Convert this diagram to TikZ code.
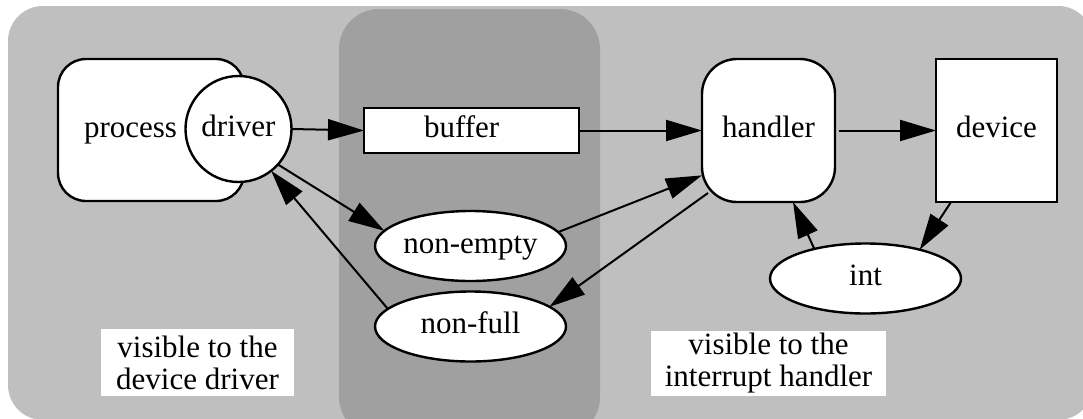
\documentclass[tikz,border=0pt]{standalone}
\usepackage{fontspec}
\setmainfont{Liberation Serif}
\usetikzlibrary{arrows.meta,shapes.geometric,calc}
\definecolor{bgl}{HTML}{BFBFBF}
\definecolor{bgd}{HTML}{A0A0A0}
\begin{document}
\begin{tikzpicture}[x=1pt,y=-1pt,
  every node/.style={font=\fontsize{31}{32}\selectfont, inner sep=0pt, outer sep=0pt},
  shapebox/.style={draw=black, line width=2.4pt, fill=white, text height=21pt, text depth=7pt},
  roundbox/.style={shapebox, rectangle, rounded corners=#1},
  ell/.style={shapebox, ellipse, minimum width=191pt, minimum height=70pt},
  conn/.style={line width=2pt, -{Triangle[length=36pt,width=21pt]}},
  tagbox/.style={fill=white, align=center, minimum width=#1}]
\useasboundingbox (0,0) rectangle (1083,418);
\begin{scope}
  \clip (0,0) rectangle (1083,418);
  \fill[bgl, rounded corners=35pt] (8,6) rectangle (1093,420);
  \fill[bgd, rounded corners=40pt] (339,9) rectangle (600,437);
\end{scope}

\node[roundbox=28pt, minimum width=186pt, minimum height=142pt, text width=134pt, inner xsep=26pt, align=left] (process) at (151,130) {process};
\node[shapebox, circle, minimum size=106pt] (driver) at (238.5,129) {driver};
\node[shapebox, rectangle, minimum width=215pt, minimum height=45pt, text width=95pt, inner xsep=60pt, align=left] (buffer) at (471.5,130.5) {buffer};
\node[roundbox=35pt, minimum width=133pt, minimum height=143pt] (handler) at (768.5,130.5) {handler};
\node[shapebox, rectangle, minimum width=121pt, minimum height=143pt] (device) at (996.5,130.5) {device};
\node[ell] (nonempty) at (470.5,246) {non-empty};
\node[ell] (nonfull) at (470.5,326.5) {non-full};
\node[ell] (int) at (865.5,278.5) {int};
\node[tagbox=193pt, minimum height=67pt] (tagdrv) at (197.5,362.5) {visible to the\\device driver};
\node[tagbox=235pt, minimum height=65pt] (taghnd) at (768.5,363.5) {visible to the\\interrupt handler};

\draw[conn] (driver.east) -- (buffer.west);
\draw[conn] (buffer.east) -- (handler.west);
\draw[conn, shorten <=4pt] (handler.east) -- (device.west);
\draw[conn] (driver.-42) -- (nonempty.170);
\draw[conn] (nonfull.168) -- (driver.-52);
\draw[conn] (nonempty.9) -- (handler.214);
\draw[conn] ($(handler.center)+(-60.5,62.5)$) -- (nonfull.14);
\draw[conn] ($(device.south)+(-45.5,0)$) -- (int.28);
\draw[conn] (int.150) -- ($(handler.south)+(24.5,0)$);
\end{tikzpicture}
\end{document}
